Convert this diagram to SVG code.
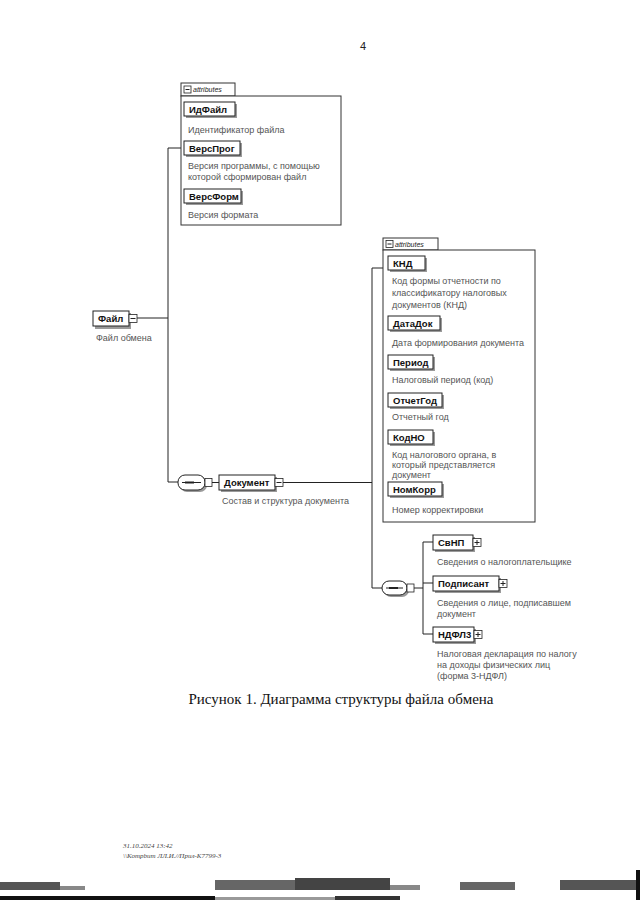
<svg xmlns="http://www.w3.org/2000/svg" width="640" height="905" viewBox="0 0 640 905">
<style>
.ln{stroke:#222;stroke-width:1;fill:none}
.box{fill:#fff;stroke:#222;stroke-width:1}
.abox{fill:#fff;stroke:#333;stroke-width:1}
.sh{fill:#9a9a9a}
.nm{font-family:"Liberation Sans",Arial,sans-serif;font-size:9.5px;font-weight:bold;fill:#111}
.ds{font-family:"Liberation Sans",Arial,sans-serif;font-size:9px;fill:#555}
.at{font-family:"Liberation Sans",Arial,sans-serif;font-size:7px;font-style:italic;fill:#222}
.ic{fill:#fff;stroke:#222;stroke-width:0.8}
.cap{font-family:"Liberation Serif","Times New Roman",serif;font-size:15px;fill:#111}
.ft{font-family:"Liberation Serif","Times New Roman",serif;font-size:7px;font-style:italic;fill:#444}
</style>
<rect width="640" height="905" fill="#fff"/>
<text x="363" y="50" font-family="Liberation Sans,Arial,sans-serif" font-size="11" fill="#222" text-anchor="middle">4</text>

<g id="connectors">
<path class="ln" d="M137 318H168M168 148V482H178M168 148H181"/>
<path class="ln" d="M212 482.5H219M283 482.5H372M372 268V588H382M372 268H383"/>
<path class="ln" d="M414 588H423M423 542V634M423 542H433M423 583H433M423 634H433"/>
</g>

<g id="attributes1">
<rect class="abox" x="181" y="83" width="54" height="13"/>
<rect class="ic" x="184" y="86" width="7" height="7"/>
<path class="ln" d="M185.5 89.5H189.5"/>
<text class="at" x="193" y="92">attributes</text>
<rect class="abox" x="181" y="96" width="160" height="129"/>
</g>

<g id="IdFile">
<rect class="sh" x="186" y="104" width="51" height="14"/>
<rect class="box" x="184" y="102" width="51" height="14"/>
<text class="nm" x="189" y="113">ИдФайл</text>
<text class="ds" x="188" y="133">Идентификатор файла</text>
</g>
<g id="VersProg">
<rect class="sh" x="186" y="143" width="56" height="14"/>
<rect class="box" x="184" y="141" width="56" height="14"/>
<text class="nm" x="189" y="152">ВерсПрог</text>
<text class="ds" x="188" y="169">Версия программы, с помощью</text>
<text class="ds" x="188" y="180">которой сформирован файл</text>
</g>
<g id="VersForm">
<rect class="sh" x="186" y="191" width="57" height="14"/>
<rect class="box" x="184" y="189" width="57" height="14"/>
<text class="nm" x="189" y="200">ВерсФорм</text>
<text class="ds" x="188" y="218">Версия формата</text>
</g>

<g id="File">
<rect class="sh" x="95" y="313" width="36" height="16"/>
<rect class="box" x="93" y="311" width="36" height="15"/>
<text class="nm" x="98" y="322">Файл</text>
<rect class="ic" x="129" y="314.5" width="8" height="8"/>
<path class="ln" d="M130.5 318.5H135.5"/>
<text class="ds" x="96" y="341">Файл обмена</text>
</g>

<g id="sequence1">
<rect class="sh" x="180" y="477" width="27" height="15" rx="7"/>
<rect class="box" x="178" y="475" width="27" height="15" rx="7"/>
<path class="ln" d="M182 482.5H201"/>
<rect x="185" y="481.5" width="9" height="2" fill="#222"/>
<rect class="ic" x="205" y="478.5" width="7" height="8"/>
</g>

<g id="Document">
<rect class="sh" x="221" y="477" width="56" height="15"/>
<rect class="box" x="219" y="475" width="56" height="15"/>
<text class="nm" x="224" y="486">Документ</text>
<rect class="ic" x="275" y="478.5" width="8" height="8"/>
<path class="ln" d="M276.5 482.5H281.5"/>
<text class="ds" x="222" y="504">Состав и структура документа</text>
</g>

<g id="attributes2">
<rect class="abox" x="383" y="238" width="55" height="12"/>
<rect class="ic" x="386" y="240.5" width="7" height="7"/>
<path class="ln" d="M387.5 244H391.5"/>
<text class="at" x="395" y="247">attributes</text>
<rect class="abox" x="383" y="250" width="152" height="272"/>
</g>

<g id="KND">
<rect class="sh" x="390" y="258" width="37" height="14"/>
<rect class="box" x="388" y="256" width="37" height="14"/>
<text class="nm" x="393" y="267">КНД</text>
<text class="ds" x="392" y="284">Код формы отчетности по</text>
<text class="ds" x="392" y="296">классификатору налоговых</text>
<text class="ds" x="392" y="308">документов (КНД)</text>
</g>
<g id="DataDok">
<rect class="sh" x="390" y="318" width="52" height="14"/>
<rect class="box" x="388" y="316" width="52" height="14"/>
<text class="nm" x="393" y="327">ДатаДок</text>
<text class="ds" x="392" y="346">Дата формирования документа</text>
</g>
<g id="Period">
<rect class="sh" x="390" y="357" width="45" height="14"/>
<rect class="box" x="388" y="355" width="45" height="14"/>
<text class="nm" x="393" y="366">Период</text>
<text class="ds" x="392" y="383">Налоговый период (код)</text>
</g>
<g id="OtchetGod">
<rect class="sh" x="390" y="395" width="54" height="14"/>
<rect class="box" x="388" y="393" width="54" height="14"/>
<text class="nm" x="393" y="404">ОтчетГод</text>
<text class="ds" x="392" y="420">Отчетный год</text>
</g>
<g id="KodNO">
<rect class="sh" x="390" y="432" width="45" height="14"/>
<rect class="box" x="388" y="430" width="45" height="14"/>
<text class="nm" x="393" y="441">КодНО</text>
<text class="ds" x="392" y="458">Код налогового органа, в</text>
<text class="ds" x="392" y="468">который представляется</text>
<text class="ds" x="392" y="478">документ</text>
</g>
<g id="NomKorr">
<rect class="sh" x="390" y="484" width="54" height="14"/>
<rect class="box" x="388" y="482" width="54" height="14"/>
<text class="nm" x="393" y="493">НомКорр</text>
<text class="ds" x="392" y="513">Номер корректировки</text>
</g>

<g id="sequence2">
<rect class="sh" x="384" y="583" width="25" height="14" rx="7"/>
<rect class="box" x="382" y="581" width="25" height="14" rx="7"/>
<path class="ln" d="M386 588H403"/>
<rect x="389" y="587" width="9" height="2" fill="#222"/>
<rect class="ic" x="407" y="584" width="7" height="8"/>
</g>

<g id="SvNP">
<rect class="sh" x="435" y="537" width="40" height="15"/>
<rect class="box" x="433" y="535" width="40" height="15"/>
<text class="nm" x="438" y="546">СвНП</text>
<rect class="ic" x="473" y="538.5" width="8" height="8"/>
<path class="ln" d="M474.5 542.5H479.5M477 540V545"/>
<text class="ds" x="437" y="565">Сведения о налогоплательщике</text>
</g>
<g id="Podpisant">
<rect class="sh" x="435" y="578" width="66" height="15"/>
<rect class="box" x="433" y="576" width="66" height="15"/>
<text class="nm" x="438" y="587">Подписант</text>
<rect class="ic" x="499" y="579.5" width="8" height="8"/>
<path class="ln" d="M500.5 583.5H505.5M503 581V586"/>
<text class="ds" x="437" y="606">Сведения о лице, подписавшем</text>
<text class="ds" x="437" y="617">документ</text>
</g>
<g id="NDFL3">
<rect class="sh" x="435" y="629" width="41" height="15"/>
<rect class="box" x="433" y="627" width="41" height="15"/>
<text class="nm" x="438" y="638">НДФЛ3</text>
<rect class="ic" x="474" y="630.5" width="8" height="8"/>
<path class="ln" d="M475.5 634.5H480.5M478 632V637"/>
<text class="ds" x="437" y="657">Налоговая декларация по налогу</text>
<text class="ds" x="437" y="668">на доходы физических лиц</text>
<text class="ds" x="437" y="679">(форма 3-НДФЛ)</text>
</g>

<text class="cap" x="341" y="704" text-anchor="middle">Рисунок 1. Диаграмма структуры файла обмена</text>

<text class="ft" x="123" y="848">31.10.2024 13:42</text>
<text class="ft" x="123" y="858">\\Kompbum ЛЛ.И.//Прил-К7799-3</text>

<g id="scan-noise" fill="#333">
<rect x="0" y="882" width="60" height="8" fill="#555"/>
<rect x="60" y="886" width="25" height="4" fill="#888"/>
<rect x="215" y="880" width="80" height="10" fill="#666"/>
<rect x="295" y="878" width="95" height="12" fill="#444"/>
<rect x="390" y="885" width="30" height="5" fill="#888"/>
<rect x="460" y="882" width="55" height="8" fill="#666"/>
<rect x="560" y="880" width="80" height="10" fill="#555"/>
<rect x="0" y="896" width="215" height="4" fill="#111"/>
<rect x="215" y="897" width="120" height="3" fill="#999"/>
<rect x="335" y="896" width="65" height="4" fill="#333"/>
<rect x="636" y="870" width="4" height="30" fill="#111"/>
</g>
</svg>
